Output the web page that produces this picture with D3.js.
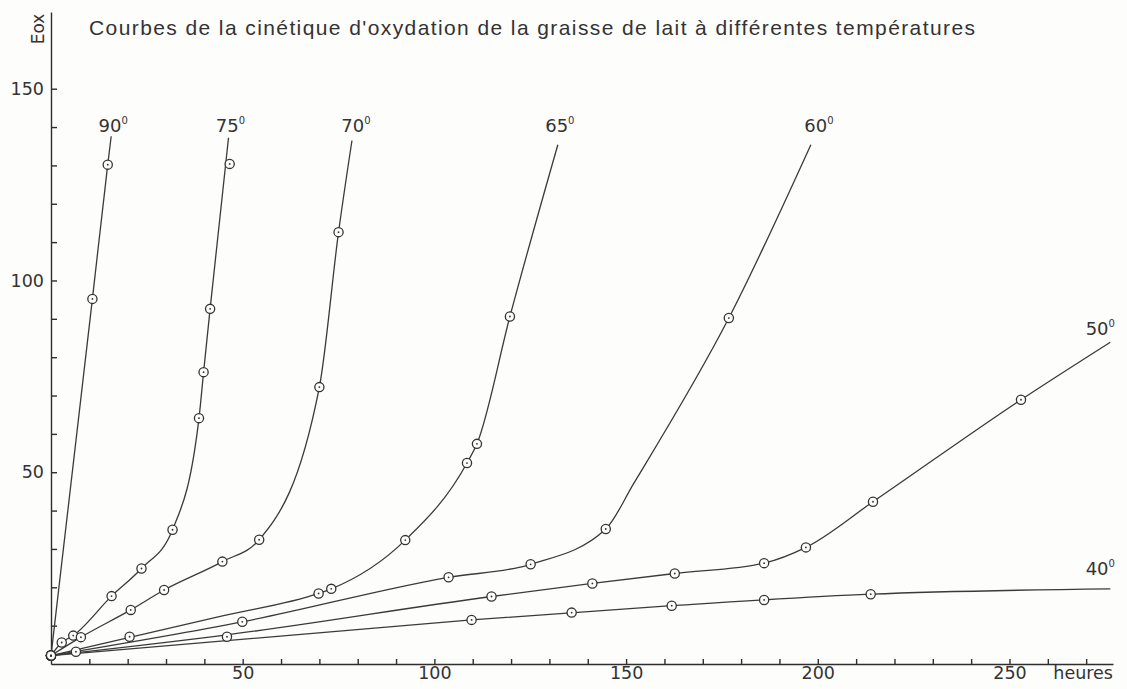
<!DOCTYPE html>
<html lang="fr">
<head>
<meta charset="utf-8">
<script src="https://cdn.jsdelivr.net/npm/d3@7"></script>
<style>
  html, body { margin: 0; padding: 0; background: #fdfdfc; }
  svg { display: block; background: #fdfdfc; }
  .axe path, .axe line { stroke: #2e2e2e; stroke-width: 1.4; }
  .axe text { font-family: "DejaVu Sans", sans-serif; font-size: 17.5px; fill: #333; }
  .titre { font-family: "Liberation Sans", Arial, sans-serif; font-size: 21px; fill: #333; }
  .etiquette { font-family: "DejaVu Sans", sans-serif; font-size: 18px; fill: #333; }
</style>
</head>
<body>
<svg width="1127" height="689"></svg>
<script>
// Températures des courbes
const temperatures = [90, 75, 70, 65, 60, 50, 40];

// Points mesurés (cercles) : [heures, Eox]
const mesures90 = [[0, 2.2], [10.8, 95.2], [14.8, 130.2]];
const mesures75 = [[0, 2.2], [2.8, 5.6], [5.8, 7.4], [15.8, 17.7], [23.6, 24.9], [31.7, 35.0], [38.6, 64.1], [39.8, 76.1], [41.5, 92.6], [46.6, 130.4]];
const mesures70 = [[0, 2.2], [7.8, 7.0], [20.8, 14.1], [29.5, 19.3], [44.7, 26.7], [54.3, 32.4], [70.0, 72.2], [75.0, 112.6]];
const mesures65 = [[0, 2.2], [20.5, 7.1], [69.8, 18.4], [73.1, 19.6], [92.4, 32.3], [108.5, 52.4], [111.1, 57.4], [119.7, 90.6]];
const mesures60 = [[0, 2.2], [49.9, 11.0], [103.7, 22.6], [125.1, 26.0], [144.7, 35.2], [176.8, 90.2]];
const mesures50 = [[0, 2.2], [45.9, 7.1], [114.9, 17.6], [141.2, 21.0], [162.7, 23.6], [186.0, 26.3], [196.9, 30.4], [214.4, 42.3], [253.0, 68.9]];
const mesures40 = [[0, 2.2], [6.5, 3.2], [109.7, 11.5], [135.8, 13.4], [161.9, 15.2], [186.0, 16.7], [213.8, 18.2]];

// Tracé des courbes (points de passage du trait lissé)
const trace90 = [[0, 2.2], [10.8, 95.2], [14.8, 130.2], [15.7, 137.6]];
const trace75 = [[0, 2.2], [2.8, 5.6], [5.8, 7.4], [15.8, 17.7], [23.6, 24.9], [31.7, 35.0], [38.6, 64.1], [39.8, 76.1], [41.5, 92.6], [46.3, 137.2]];
const trace70 = [[0, 2.2], [7.8, 7.0], [20.8, 14.1], [29.5, 19.3], [44.7, 26.7], [54.3, 32.4], [70.0, 72.2], [75.0, 112.6], [78.5, 136.5]];
const trace65 = [[0, 2.2], [45.0, 12.6], [69.8, 18.4], [73.1, 19.6], [92.4, 32.3], [108.5, 52.4], [111.1, 57.4], [119.7, 90.6], [132.2, 135.4]];
const trace60 = [[0, 2.2], [49.9, 11.0], [103.7, 22.6], [125.1, 26.0], [144.7, 35.2], [152.0, 47.1], [176.8, 90.2], [198.2, 135.4]];
const trace50 = [[0, 2.2], [45.9, 7.6], [114.9, 17.6], [141.2, 21.0], [162.7, 23.6], [186.0, 26.3], [196.9, 30.4], [214.4, 42.3], [253.0, 68.9], [276.3, 83.9]];
const trace40 = [[0, 2.2], [109.7, 11.5], [161.9, 15.2], [213.8, 18.2], [276.3, 19.6]];

// Graduations et libellés
const ticksX = [50, 100, 150, 200, 250];
const ticksY = [50, 100, 150];
const titre = "Courbes de la cinétique d'oxydation de la graisse de lait à différentes températures";

const series = [
    { t: 90, mesures: mesures90, trace: trace90, place: "haut", dx: 2 },
    { t: 75, mesures: mesures75, trace: trace75, place: "haut", dx: 2 },
    { t: 70, mesures: mesures70, trace: trace70, place: "haut", dx: 4 },
    { t: 65, mesures: mesures65, trace: trace65, place: "haut", dx: 2 },
    { t: 60, mesures: mesures60, trace: trace60, place: "haut", dx: 8 },
    { t: 50, mesures: mesures50, trace: trace50, place: "droite", dx: -10, dy: -7 },
    { t: 40, mesures: mesures40, trace: trace40, place: "droite", dx: -10, dy: -14 }
];

const svg = d3.select("svg");
const width = +svg.attr("width");
const height = +svg.attr("height");
const marges = { left: 51, right: 14, top: 12, bottom: 25 };
const innerWidth = width - marges.left - marges.right;
const innerHeight = height - marges.top - marges.bottom;

const group = svg.append("g")
    .attr("transform", `translate(${marges.left},${marges.top})`);

// Echelles : heures en X, Eox en Y
const x = d3.scaleLinear().domain([0, 277]).range([0, innerWidth]);
const y = d3.scaleLinear().domain([0, 170]).range([innerHeight, 0]);

// Axe X, graduations tournées vers l'intérieur (libellés seulement tous les 50)
const axeX = group.append("g")
    .attr("class", "axe")
    .attr("transform", `translate(0,${innerHeight})`)
    .call(d3.axisBottom(x)
        .tickValues(d3.range(10, 271, 10))
        .tickSize(-5)
        .tickSizeOuter(0)
        .tickPadding(3)
        .tickFormat(d => ticksX.includes(d) ? d : ""));
axeX.selectAll(".tick line").attr("stroke-width", 1.1);
axeX.selectAll(".tick text").filter(d => !ticksX.includes(d)).remove();

// Axe Y
const axeY = group.append("g")
    .attr("class", "axe")
    .call(d3.axisLeft(y)
        .tickValues(d3.range(10, 151, 10))
        .tickSize(-6)
        .tickSizeOuter(0)
        .tickPadding(7)
        .tickFormat(d => ticksY.includes(d) ? d : ""));
axeY.selectAll(".tick line").attr("stroke-width", 1.1);
axeY.selectAll(".tick text").filter(d => !ticksY.includes(d)).remove();

// Unité de l'axe X
group.append("text")
    .attr("class", "etiquette")
    .attr("x", x(277))
    .attr("y", innerHeight + 3)
    .attr("dy", "0.71em")
    .attr("text-anchor", "end")
    .style("font-size", "17.5px")
    .text("heures");

// Titre de l'axe Y
svg.append("text")
    .attr("class", "etiquette")
    .attr("transform", `translate(${marges.left - 7},${marges.top + 17}) rotate(-90)`)
    .attr("text-anchor", "middle")
    .style("font-size", "17px")
    .text("Eox");

// Titre du graphique
svg.append("text")
    .attr("class", "titre")
    .attr("x", marges.left + 38)
    .attr("y", 35)
    .attr("textLength", 886)
    .attr("lengthAdjust", "spacing")
    .text(titre);

// Courbes
const line = d3.line()
    .x(d => x(d[0]))
    .y(d => y(d[1]))
    .curve(d3.curveMonotoneX);

group.selectAll("path.courbe")
    .data(series)
    .enter()
    .append("path")
    .attr("class", "courbe")
    .attr("fill", "none")
    .attr("stroke", "#3a3a3a")
    .attr("stroke-width", 1.3)
    .attr("d", d => line(d.trace));

// Points de mesure : cercle avec point central
const points = series.flatMap(s => s.mesures);
group.selectAll("circle.mesure")
    .data(points)
    .enter()
    .append("circle")
    .attr("class", "mesure")
    .attr("cx", d => x(d[0]))
    .attr("cy", d => y(d[1]))
    .attr("r", 4.6)
    .attr("fill", "#fdfdfc")
    .attr("stroke", "#333")
    .attr("stroke-width", 1.3);

group.selectAll("circle.centre")
    .data(points)
    .enter()
    .append("circle")
    .attr("class", "centre")
    .attr("cx", d => x(d[0]))
    .attr("cy", d => y(d[1]))
    .attr("r", 0.9)
    .attr("fill", "#333");

// Etiquettes des températures
const etiquettes = group.selectAll("text.temp")
    .data(series)
    .enter()
    .append("text")
    .attr("class", "etiquette temp")
    .attr("text-anchor", "middle")
    .attr("x", d => x(d.trace[d.trace.length - 1][0]) + d.dx)
    .attr("y", d => {
        const fin = d.trace[d.trace.length - 1];
        return d.place === "haut" ? y(138.7) : y(fin[1]) + d.dy;
    });

etiquettes.append("tspan").text(d => d.t);
etiquettes.append("tspan")
    .attr("dy", -8)
    .style("font-size", "10px")
    .text("0");
</script>
</body>
</html>
